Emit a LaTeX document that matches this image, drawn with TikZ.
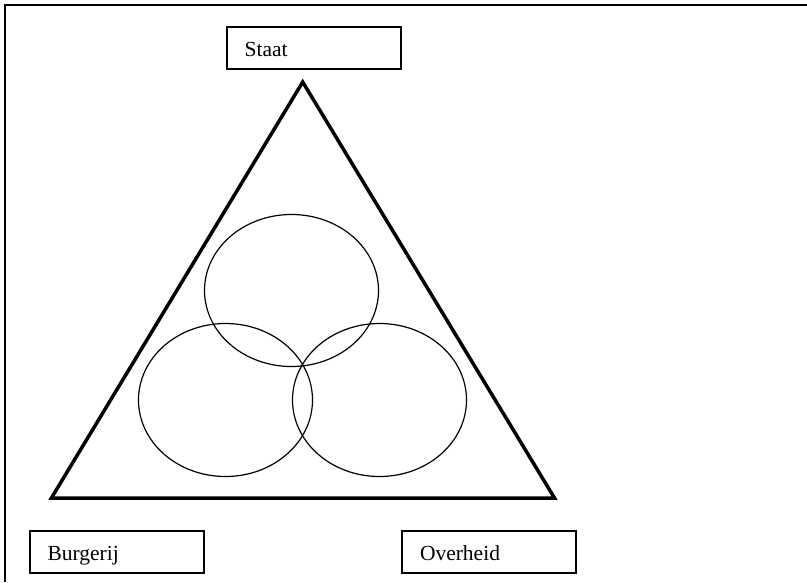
\documentclass[tikz,border=0pt]{standalone}
\usepackage{fontspec}
\setmainfont{Liberation Serif}
\begin{document}
\begin{tikzpicture}[x=1pt,y=-1pt,
  labelbox/.style={draw, line width=2pt, minimum width=174pt, minimum height=42pt,
    inner xsep=18pt, inner ysep=0pt, text width=138pt, align=left,
    text height=20pt, text depth=3pt, font=\fontsize{21.5}{24}\selectfont},
  ring/.style={draw, line width=1.2pt}]
\useasboundingbox (0,0) rectangle (807,582);
\fill[white] (0,0) rectangle (807,582);
\draw[line width=2pt] (807,4.5) -- (4.5,4.5) -- (4.5,582);
\node[labelbox] (staat) at (313.7,48) {Staat};
\node[labelbox] (burgerij) at (116.5,552) {Burgerij};
\node[labelbox] (overheid) at (489,552) {Overheid};
\coordinate (apex) at (302.7,82);
\coordinate (bl) at (51.4,498);
\coordinate (br) at (554.5,498);
\draw[line width=3.5pt, line join=miter] (apex) -- (bl) -- (br) -- cycle;
\draw[ring] (291.5,290.5) ellipse [x radius=87, y radius=76];
\draw[ring] (225.5,400) ellipse [x radius=87, y radius=76.5];
\draw[ring] (379.5,400) ellipse [x radius=87, y radius=76.5];
\end{tikzpicture}
\end{document}
